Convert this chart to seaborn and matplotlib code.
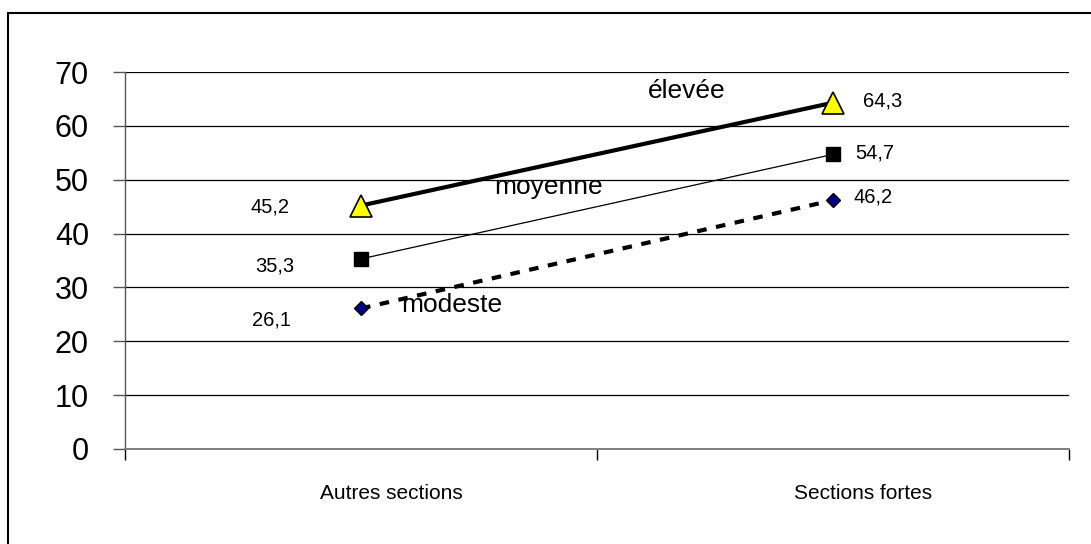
import matplotlib
matplotlib.use("Agg")
import matplotlib.pyplot as plt
import matplotlib.patches as patches
import matplotlib.transforms as mtransforms
import seaborn as sns
import pandas as pd

categories = ["Autres sections", "Sections fortes"]
series_names = ["élevée", "moyenne", "modeste"]
eleve = [45.2, 64.3]
moyenne = [35.3, 54.7]
modeste = [26.1, 46.2]
value_labels = {"élevée": ["45,2", "64,3"], "moyenne": ["35,3", "54,7"], "modeste": ["26,1", "46,2"]}
y_ticks = [0, 10, 20, 30, 40, 50, 60, 70]

df = pd.DataFrame({
    "cat": categories * 3,
    "serie": [s for s in series_names for _ in categories],
    "val": eleve + moyenne + modeste,
})

sns.set_theme(style="white")
plt.rcParams["font.family"] = ["Liberation Sans", "DejaVu Sans"]
plt.rcParams["text.color"] = "black"
plt.rcParams["xtick.color"] = "black"
plt.rcParams["ytick.color"] = "black"
plt.rcParams["xtick.labelcolor"] = "black"
plt.rcParams["ytick.labelcolor"] = "black"

fig = plt.figure(figsize=(10.91, 5.44), dpi=100)
ax = fig.add_axes([125/1091, 1-449/544, (1069-125)/1091, (449-72)/544])

styles = {
    "élevée": dict(color="black", lw=3.0, ls="-", marker="^", ms=16, mfc="#FFFF00", mec="black", mew=1.2),
    "moyenne": dict(color="black", lw=0.9, ls="-", marker="s", ms=10, mfc="black", mec="black", mew=1),
    "modeste": dict(color="black", lw=3.0, ls=(0, (2.3, 2.3)), marker="D", ms=7, mfc="#000080", mec="black", mew=1),
}
for s in series_names:
    st = styles[s]
    sub = df[df["serie"] == s]
    sns.lineplot(data=sub, x="cat", y="val", ax=ax, color=st["color"], lw=st["lw"], ls=st["ls"],
                 marker=st["marker"], markersize=st["ms"], markerfacecolor=st["mfc"],
                 markeredgecolor=st["mec"], markeredgewidth=st["mew"], legend=False, zorder=3)

ax.set_xlim(-0.5, 1.5)
ax.set_ylim(0, 70)
ax.set_yticks(y_ticks)
ax.set_yticklabels([str(v) for v in y_ticks], fontsize=22, color="black")
ax.set_xticks([-0.5, 0.5, 1.5])
ax.set_xticklabels(["", "", ""])
ax.set_xticks([0, 1], minor=True)
ax.set_xticklabels(categories, minor=True, fontsize=15, color="black")
ax.tick_params(axis="x", which="minor", bottom=True, length=0, pad=25)
ax.tick_params(axis="x", which="major", bottom=True, length=8, width=1, color="black", direction="out")
ax.tick_params(axis="y", which="major", left=True, length=9, width=1, color="#555555", direction="out", pad=17)
ax.set_xlabel("")
ax.set_ylabel("")
offset = mtransforms.ScaledTranslation(30/100, 0, fig.dpi_scale_trans)
for lbl in ax.get_xticklabels(minor=True):
    lbl.set_transform(lbl.get_transform() + offset)

for v in y_ticks[1:]:
    ax.axhline(v, color="black", lw=0.9, zorder=1)
for sp in ["top", "right"]:
    ax.spines[sp].set_visible(False)
ax.spines["left"].set_color("#555555")
ax.spines["bottom"].set_color("#7f7f7f")
ax.spines["left"].set_linewidth(1)
ax.spines["bottom"].set_linewidth(1.4)

left_pos = {"élevée": (-0.193, 44.9), "moyenne": (-0.182, 34.0), "modeste": (-0.189, 24.0)}
right_pos = {"élevée": (1.106, 64.6), "moyenne": (1.089, 55.0), "modeste": (1.085, 46.8)}
for s in series_names:
    ax.text(*left_pos[s], value_labels[s][0], fontsize=14.5, ha="center", va="center", color="black")
    ax.text(*right_pos[s], value_labels[s][1], fontsize=14.5, ha="center", va="center", color="black")

series_label_pos = {"élevée": (0.689, 66.4), "moyenne": (0.398, 48.6), "modeste": (0.193, 26.8)}
for s in series_names:
    ax.text(*series_label_pos[s], s, fontsize=19, ha="center", va="center", color="black")

frame = patches.Rectangle((8/1091, -0.2), 1.2, 0.2 + 1 - 13/544, transform=fig.transFigure,
                          fill=False, edgecolor="black", lw=1.5, clip_on=False)
fig.patches.append(frame)

fig.savefig("out.png", dpi=100)
